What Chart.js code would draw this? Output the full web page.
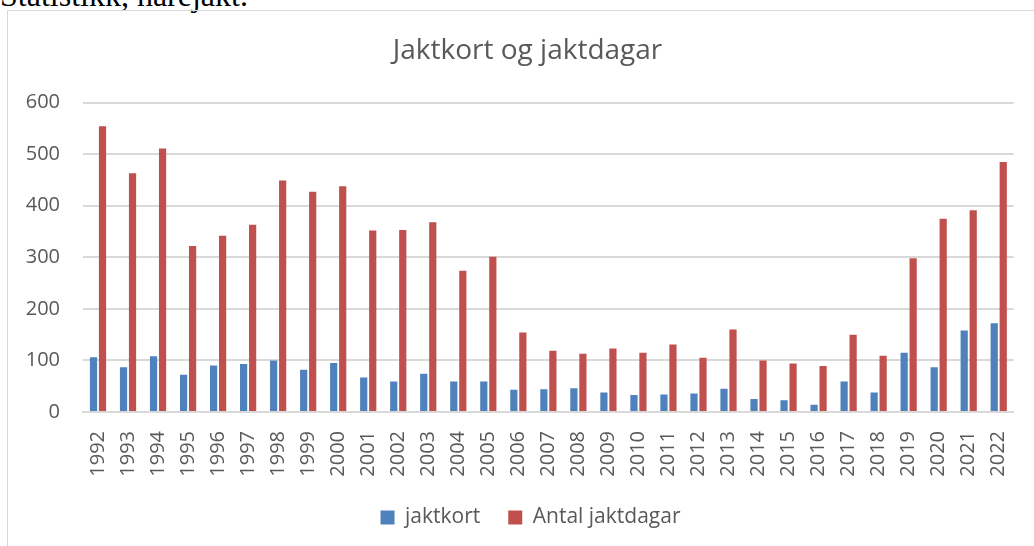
<!DOCTYPE html>
<html>
<head>
<meta charset="utf-8">
<script src="https://cdn.jsdelivr.net/npm/chart.js@4"></script>
<style>
  html, body { margin:0; padding:0; background:#fff; overflow:hidden; }
  #caption { position:absolute; left:0; top:-21px; font-family:"Liberation Serif", serif; font-size:32px; line-height:32px; color:#000; white-space:nowrap; }
  #box { position:absolute; left:7px; top:10px; width:1100px; height:600px; border:1px solid #d9d9d9; }
  #wrap { position:absolute; left:0; top:0; width:1026px; height:545px; }
</style>
</head>
<body>
<div id="caption">Statistikk, harejakt.</div>
<div id="box"><div id="wrap"><canvas id="chart"></canvas></div></div>
<script>
// ── data ──
const years = ['1992','1993','1994','1995','1996','1997','1998','1999','2000','2001','2002','2003','2004','2005','2006',
  '2007','2008','2009','2010','2011','2012','2013','2014','2015','2016','2017','2018','2019','2020','2021','2022'];
const jaktkort = [106, 87, 108, 72, 90, 93, 100, 82, 95, 67, 59, 74, 59, 59, 43,
  44, 46, 38, 33, 34, 36, 45, 25, 23, 14, 59, 38, 115, 87, 158, 172];
const jaktdagar = [554, 463, 511, 322, 342, 363, 449, 427, 438, 352, 353, 368, 274, 301, 154,
  119, 113, 123, 115, 131, 105, 160, 100, 94, 89, 150, 109, 298, 375, 391, 485];

const TEXT = '#595959';
const GRID = '#d9d9d9';
const FONT = '"Open Sans", sans-serif';

// nudge title + legend a bit right, like the original (centred over the plot)
const nudgeBlocks = {
  id: 'nudgeBlocks',
  afterLayout(chart) {
    const t = chart.titleBlock, l = chart.legend;
    if (t) { t.left += 11; t.right += 11; }
    if (l) { l.left += 14; l.right += 14; }
  },
};

new Chart(document.getElementById('chart'), {
  type: 'bar',
  data: {
    labels: years,
    datasets: [
      { label:'jaktkort', data:jaktkort, backgroundColor:'#4f81bd' },
      { label:'Antal jaktdagar', data:jaktdagar, backgroundColor:'#c0504d' },
    ],
  },
  options: {
    responsive:true, maintainAspectRatio:false, animation:false,
    categoryPercentage:0.6, barPercentage:0.8,
    layout:{ padding:{ left:8, right:17, top:0, bottom:18 } },
    plugins:{
      tooltip:{ enabled:false },
      title:{ display:true, text:'Jaktkort og jaktdagar', color:TEXT,
        font:{ family:FONT, size:28, weight:'normal' }, padding:{ top:23, bottom:35 } },
      legend:{ position:'bottom',
        labels:{ color:TEXT, boxWidth:14, boxHeight:14, padding:28, font:{ family:FONT, size:21 } } },
    },
    scales:{
      x:{
        grid:{ display:false },
        border:{ color:GRID, width:2 },
        ticks:{ color:TEXT, font:{ family:FONT, size:20 }, minRotation:90, maxRotation:90, padding:11 },
        afterFit(s){ s.height = 67; },
      },
      y:{
        min:0, max:600,
        grid:{ color:GRID, lineWidth:2, drawTicks:false },
        border:{ display:false },
        ticks:{ stepSize:100, color:TEXT, font:{ family:FONT, size:20 }, padding:23 },
        afterFit(s){ s.width = 67; },
      },
    },
  },
  plugins:[nudgeBlocks],
});
</script>
</body>
</html>
